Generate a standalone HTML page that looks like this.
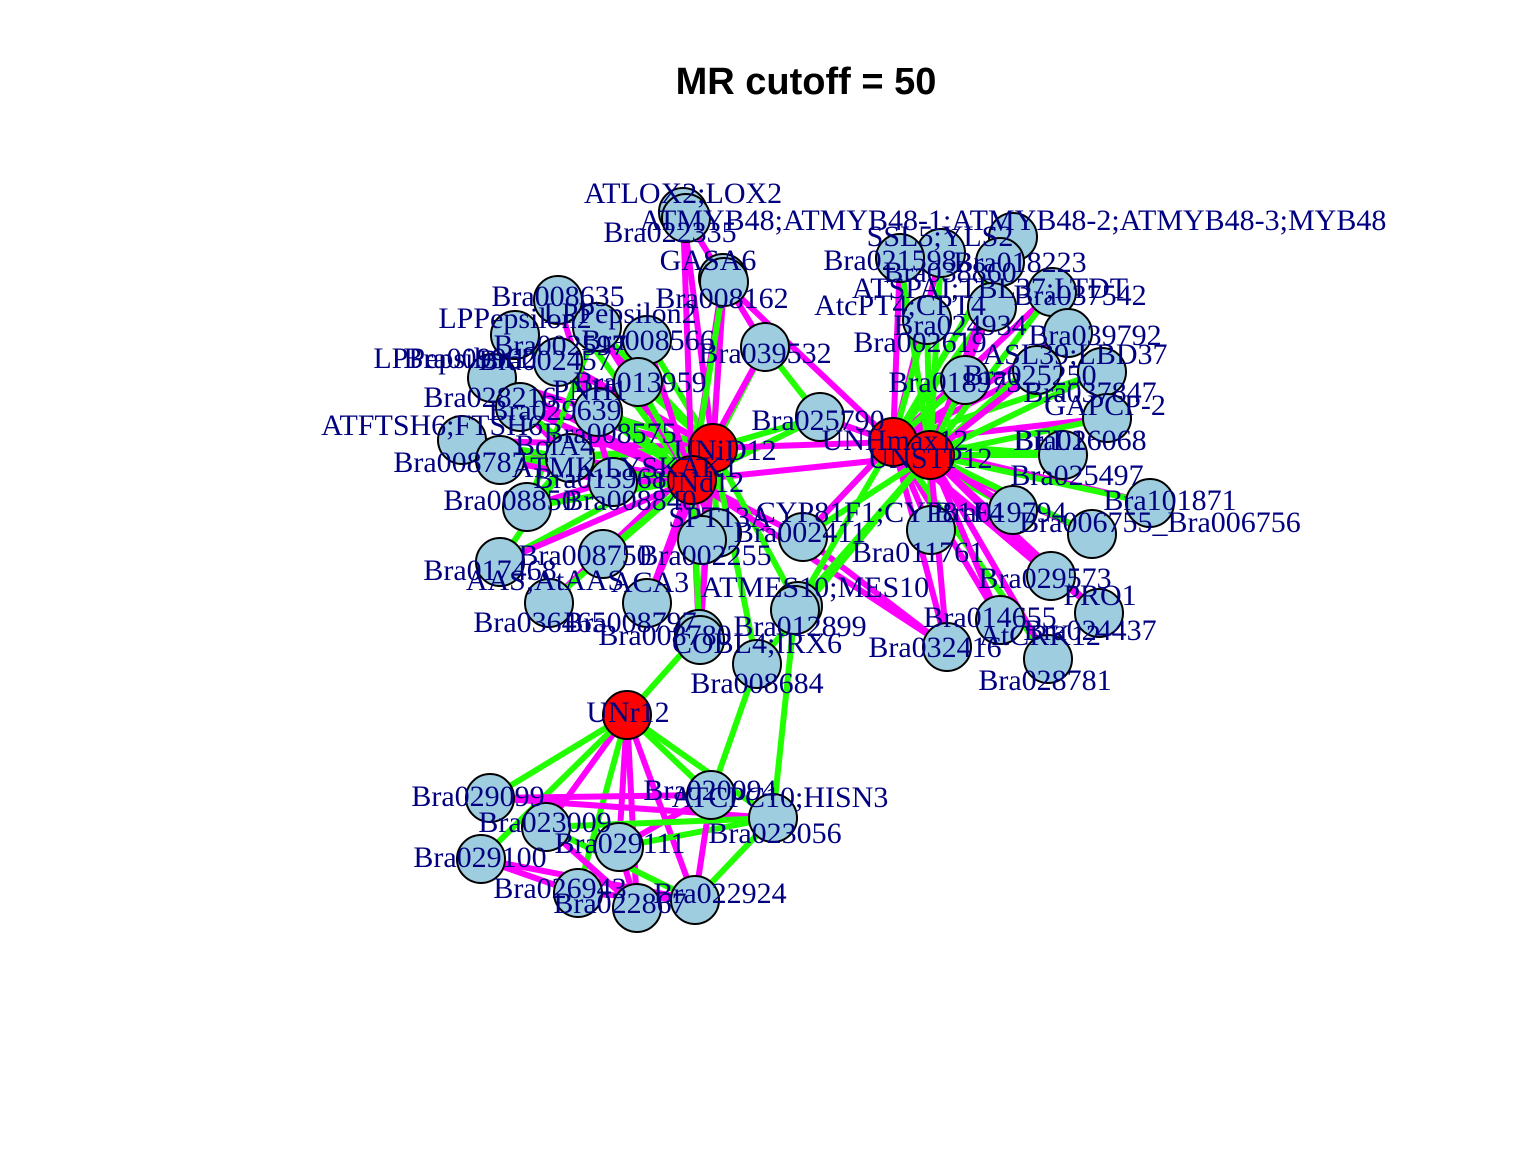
<!DOCTYPE html>
<html><head><meta charset="utf-8"><title>MR cutoff = 50</title>
<style>
html,body{margin:0;padding:0;background:#fff;}
svg{display:block;}
.lbl{font-family:"Liberation Serif",serif;font-size:30px;fill:#000080;}
</style></head>
<body>
<svg id="chart" width="1536" height="1152" viewBox="0 0 1536 1152" xmlns="http://www.w3.org/2000/svg">
<rect width="1536" height="1152" fill="#fff"/>
<text x="806" y="94" text-anchor="middle" font-family="Liberation Sans, sans-serif" font-weight="bold" font-size="38">MR cutoff = 50</text>
<g id="edges"></g>
<g id="nodes"></g>
<g id="labels"></g>
</svg>
<script>
// node layout data: id, x, y, label, label x, label y, hub flag
const nodeIds = ["ATLOX2","B022335","GASA6","B008162","B039532","B008635","LPPa","LPPb","B008566","B002597","B009962","B013959","B028216","PNH1","FTSH6","B008575","B008787","B013968","B008850","UNiD12","UNd12","SPT13A","B002255","B002411","B008750","B017468","B036465","ACA3","MES10","B012899","B008797","COBL4","B008684",
"B025790","UNHmax12","UNSTP12","SSL5","MYB48","B021598","B018223","B037542","CPT4","B002619","B039792","LBD37","B025250","B018973","GAPCP2","B026068","B101871","B006755","B019794","CYP81F1","B029573","PRO1","B014655","B032416","B028781",
"UNr12","B029099","B023009","B029100","B029111","B020094","B023056","B026943","B022867","B022924"];
const nodeX = [683,686,723,724,765,558,597,515,647,558,492,638,520,598,462,570,500,613,527,713,692,717,702,803,603,500,549,647,798,795,699,700,757,
820,893,930,941,1013,900,1000,1052,992,927,1068,1102,1037,965,1107,1063,1150,1092,1013,931,1051,1099,1000,947,1048,
627,490,546,481,619,711,773,578,637,695];
const nodeY = [212,218,278,282,347,300,327,335,340,362,378,382,407,412,440,458,460,482,507,448,480,533,540,537,554,562,603,603,606,610,634,640,664,
417,442,455,253,237,258,262,292,307,320,333,372,370,380,418,455,503,534,510,530,576,613,620,647,659,
715,798,827,859,847,795,818,893,908,900];
const nodeLabels = ["ATLOX2;LOX2","Bra022335","GASA6","Bra008162","Bra039532","Bra008635","LPPepsilon2","LPPepsilon2","Bra008566","Bra002597","Bra009962","Bra013959","Bra028216","PNH1","ATFTSH6;FTSH6","Bra008575","Bra008787","Bra013968","Bra008850","UNiD12","UNd12","SPT13A","Bra002255","Bra002411","Bra008750","Bra017468","Bra036465","ACA3","ATMES10;MES10","Bra012899","Bra008797","COBL4;IRX6","Bra008684",
"Bra025790","UNHmax12","UNSTP12","SSL5;YLS2","ATMYB48;ATMYB48-1;ATMYB48-2;ATMYB48-3;MYB48","Bra021598","Bra018223","Bra037542","AtcPT4;CPT4","Bra002619","Bra039792","ASL39;LBD37","Bra025250","Bra018973","GAPCP-2","Bra026068","Bra101871","Bra006755_Bra006756","Bra019794","CYP81F1;CYP81F4","Bra029573","PRO1","Bra014655","Bra032416","Bra028781",
"UNr12","Bra029099","Bra023009","Bra029100","Bra029111","Bra020094","Bra023056","Bra026943","Bra022867","Bra022924"];
const labelX = [683,670,708,722,765,558,620,515,648,560,470,640,490,590,432,610,460,600,510,725,700,720,705,800,585,490,540,650,815,800,630,757,757,
818,895,930,940,1013,890,1020,1080,900,920,1095,1075,1030,955,1105,1080,1170,1160,1000,880,1045,1100,990,935,1045,
628,478,545,480,620,710,775,560,620,720];
const labelY = [193,232,260,298,353,296,313,318,340,345,358,382,397,390,425,433,462,478,500,450,482,517,555,532,555,570,622,582,587,626,622,643,683,
420,440,458,236,220,260,262,295,305,342,335,354,375,382,405,440,500,522,512,512,578,595,617,647,680,
712,796,822,857,843,790,833,888,903,893];
const hubIds = ["UNiD12","UNd12","UNHmax12","UNSTP12","UNr12"];
// extra overlapping labels
const extraText = ["LPPepsilon1","Bra002457","BolA4","ATMK,LYSKAK1","Bra008840","Bra029639","Bra038860","ATSPAI;TBL37;LTDT","Bra024934","Bra037847","Bra025497","Bra011761","Bra024437","AtCRK12","Bra008780","AAS;AtAAS","ATCPC10;HISN3","BEL1"];
const extraX = [450,545,555,625,630,555,950,990,960,1090,1077,918,1090,1040,665,545,780,1050];
const extraY = [358,360,445,467,500,410,272,288,325,392,475,552,630,635,635,580,797,440];

// edges: from, to, colour code (g=green, m=magenta)
const edgeFrom = [];
const edgeTo = [];
const edgeCol = [];
function addEdges(hub, list, cols){ for(let i=0;i<list.length;i++){edgeFrom.push(hub);edgeTo.push(list[i]);edgeCol.push(cols[i]);} }
const leftTargets = ["ATLOX2","GASA6","B008162","B039532","B008635","LPPa","LPPb","B008566","B002597","B009962","B013959","B028216","PNH1","FTSH6","B008575","B008787","B013968","B008850","SPT13A","B002255","B008750","B017468","B036465","ACA3","B008797","COBL4","B025790"];
const leftColsA = "mgmgmgmgmmgmgmggmmgmggmmgmg";
const leftColsB = "mmgmgmgmgmgmgmmgmgmmgmgmmgg";
const rightTargets = ["SSL5","MYB48","B021598","B018223","B037542","CPT4","B002619","B039792","LBD37","B025250","B018973","GAPCP2","B026068","B101871","B006755","B019794","CYP81F1","B029573","PRO1","B014655","B032416","B028781","B025790","B002411"];
const rightColsA = "mgmgmggmgmgmgmmgmmmmmgmg";
const rightColsB = "gmgmgmgggmgggggmgmmmmmmg";
const bottomTargets = ["B029099","B023009","B029100","B029111","B020094","B023056","B026943","B022867","B022924","B008797"];
const bottomCols = "gmgmgggmmg";
addEdges("UNiD12", leftTargets, leftColsA);
addEdges("UNd12", leftTargets, leftColsB);
addEdges("UNHmax12", rightTargets, rightColsA);
addEdges("UNSTP12", rightTargets, rightColsB);
addEdges("UNr12", bottomTargets, bottomCols);
const crossFrom = ["UNiD12","UNd12","UNd12","UNiD12","UNHmax12","UNSTP12","B008684","B023056","B002411","B002411","B029099","B029099","B023009","B029100","B029100","B029111","B020094","B020094","B023056","B026943","B022867","B029111","B023009","UNd12","UNiD12","UNHmax12","MES10","B008684","ATLOX2","B008162","B039532","B008635","LPPa","B009962","B028216","FTSH6","B008787","B008850","B017468"];
const crossTo = ["UNHmax12","UNSTP12","B002411","MES10","B002411","B012899","B020094","B012899","B032416","UNHmax12","B020094","B023056","B022924","B022924","B026943","B023056","B029111","B022924","B022924","B022924","B023009","B022867","B023056","B032416","B008684","B012899","UNSTP12","UNSTP12","B039532","UNHmax12","B025790","B013968","B008850","B008575","B013968","B008575","B013968","B008575","B008575"];
const crossCols = "mmmgggggmmmmgmmgmmgmmmgmggggmmgmgmggmgg";
for(let i=0;i<crossFrom.length;i++){edgeFrom.push(crossFrom[i]);edgeTo.push(crossTo[i]);edgeCol.push(crossCols[i]);}

const NS="http://www.w3.org/2000/svg";
const idx = {}; nodeIds.forEach((n,i)=>idx[n]=i);
const gE=document.getElementById('edges'), gN=document.getElementById('nodes'), gL=document.getElementById('labels');
for(let i=0;i<edgeFrom.length;i++){
  const a=idx[edgeFrom[i]], b=idx[edgeTo[i]];
  if(a===undefined||b===undefined) continue;
  const l=document.createElementNS(NS,'line');
  l.setAttribute('x1',nodeX[a]);l.setAttribute('y1',nodeY[a]);
  l.setAttribute('x2',nodeX[b]);l.setAttribute('y2',nodeY[b]);
  l.setAttribute('stroke',edgeCol[i]==='g'?'#22ff00':'#ff00ff');
  l.setAttribute('stroke-width','6');
  
  
  gE.appendChild(l);
}
for(let i=0;i<nodeIds.length;i++){
  const c=document.createElementNS(NS,'circle');
  c.setAttribute('cx',nodeX[i]);c.setAttribute('cy',nodeY[i]);c.setAttribute('r','24');
  c.setAttribute('fill',hubIds.includes(nodeIds[i])?'#ff0000':'#9fcde0');
  c.setAttribute('stroke','#000');c.setAttribute('stroke-width','2');
  
  
  gN.appendChild(c);
  const t=document.createElementNS(NS,'text');
  t.setAttribute('x',labelX[i]);t.setAttribute('y',labelY[i]+10);
  t.setAttribute('text-anchor','middle');t.setAttribute('class','lbl');
  
  
  t.textContent=nodeLabels[i];
  gL.appendChild(t);
}
for(let i=0;i<extraText.length;i++){
  const t=document.createElementNS(NS,'text');
  t.setAttribute('x',extraX[i]);t.setAttribute('y',extraY[i]+10);
  t.setAttribute('text-anchor','middle');t.setAttribute('class','lbl');
  
  
  t.textContent=extraText[i];
  gL.appendChild(t);
}
</script>
</body></html>
